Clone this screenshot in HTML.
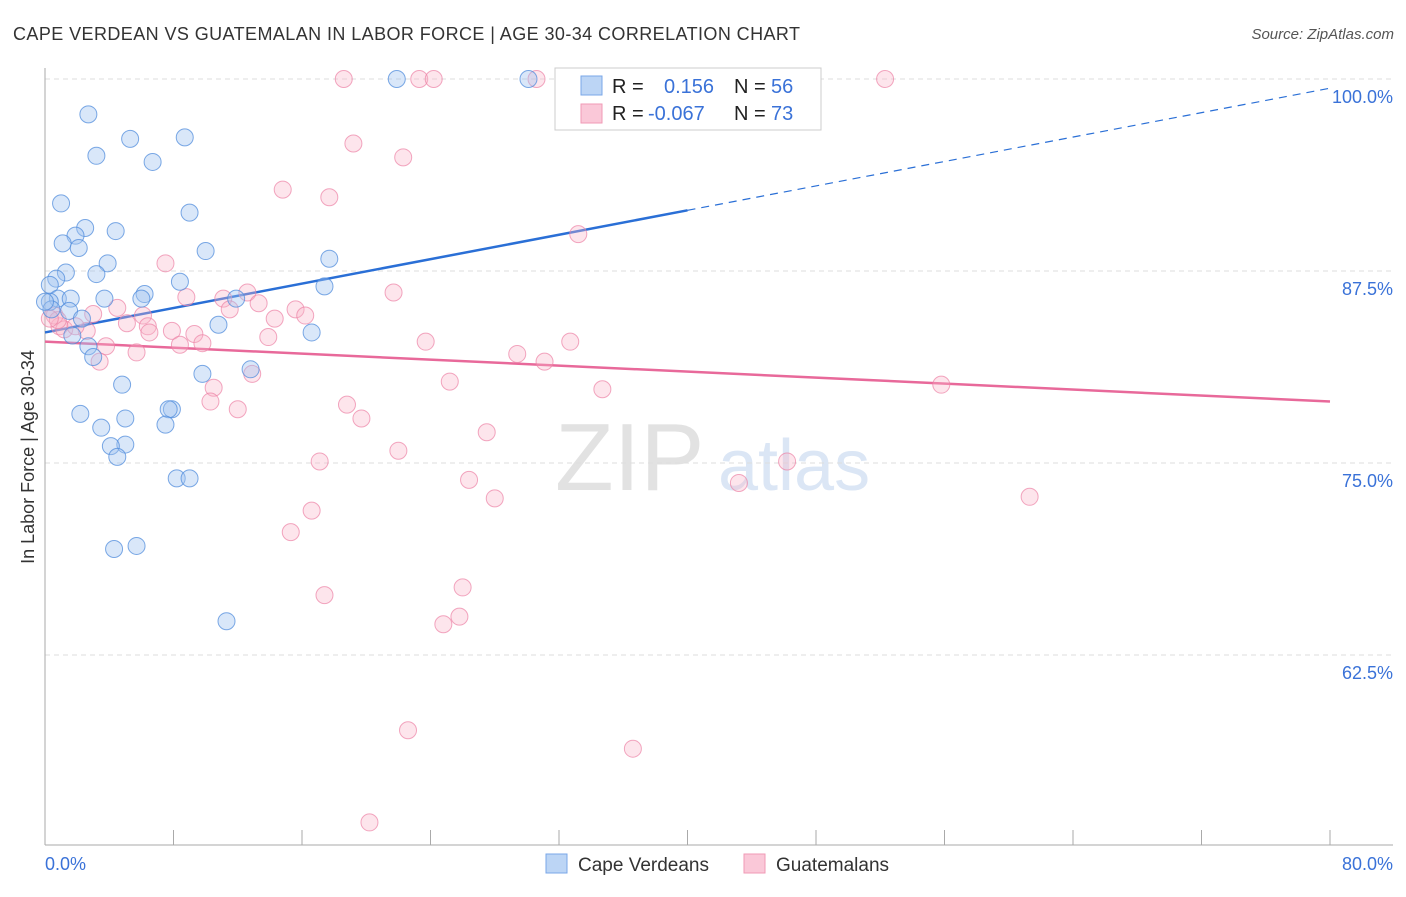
<!DOCTYPE html>
<html><head><meta charset="utf-8"><style>
body{margin:0;background:#fff;font-family:"Liberation Sans",sans-serif}
svg text{font-family:"Liberation Sans",sans-serif}
</style></head><body>
<svg id="chart" width="1406" height="892" viewBox="0 0 1406 892" xmlns="http://www.w3.org/2000/svg">
<text x="13" y="40" font-size="18" fill="#333" textLength="787">CAPE VERDEAN VS GUATEMALAN IN LABOR FORCE | AGE 30-34 CORRELATION CHART</text>
<text x="1394" y="39" font-size="15" fill="#555" text-anchor="end" font-style="italic">Source: ZipAtlas.com</text>
<g><text x="555" y="490" font-size="96" fill="#e2e2e2" font-family="Liberation Serif">ZIP</text><text x="718" y="490" font-size="72" fill="#dbe6f5">atlas</text></g>
<g id="grid"></g><g id="axes"></g><g id="lines"></g><g id="pts"></g>
<text transform="translate(34,457) rotate(-90)" font-size="18" fill="#333" text-anchor="middle">In Labor Force | Age 30-34</text>
<g>
<rect x="555" y="68" width="266" height="62" fill="#fff" stroke="#ccc"/>
<rect x="581" y="76" width="21" height="19" fill="#bcd5f5" stroke="#7aa7e8"/>
<rect x="581" y="104" width="21" height="19" fill="#fac8d8" stroke="#f09ab6"/>
<text x="612" y="93" font-size="20" fill="#222">R =</text><text x="664" y="93" font-size="20" fill="#3a72d8">0.156</text>
<text x="734" y="93" font-size="20" fill="#222">N =</text><text x="771" y="93" font-size="20" fill="#3a72d8">56</text>
<text x="612" y="120" font-size="20" fill="#222">R =</text><text x="648" y="120" font-size="20" fill="#3a72d8">-0.067</text>
<text x="734" y="120" font-size="20" fill="#222">N =</text><text x="771" y="120" font-size="20" fill="#3a72d8">73</text>
</g>
<g>
<rect x="546" y="854" width="21" height="19" fill="#bcd5f5" stroke="#7aa7e8"/>
<text x="578" y="871" font-size="19" fill="#333">Cape Verdeans</text>
<rect x="744" y="854" width="21" height="19" fill="#fac8d8" stroke="#f09ab6"/>
<text x="776" y="871" font-size="19" fill="#333">Guatemalans</text>
</g>
</svg>
<script>
const blueX=[2.7,5.3,8.7,3.2,6.7,1.0,9.0,2.5,4.4,1.9,1.1,2.1,10.0,17.7,3.9,1.3,3.2,0.7,8.4,0.3,17.4,6.2,0.8,1.6,3.7,6.0,11.9,0.3,1.5,10.8,2.3,1.7,16.6,2.7,3.0,12.8,9.8,4.8,2.2,7.9,7.7,5.0,3.5,7.5,5.0,4.1,4.5,8.2,9.0,5.7,4.3,11.3,21.9,30.1,0.4,0.0];
const blueY=[97.7,96.1,96.2,95.0,94.6,91.9,91.3,90.3,90.1,89.8,89.3,89.0,88.8,88.3,88.0,87.4,87.3,87.0,86.8,86.6,86.5,86.0,85.7,85.7,85.7,85.7,85.7,85.5,84.9,84.0,84.4,83.3,83.5,82.6,81.9,81.1,80.8,80.1,78.2,78.5,78.5,77.9,77.3,77.5,76.2,76.1,75.4,74.0,74.0,69.6,69.4,64.7,100,100,85.0,85.5];
const pinkX=[18.6,23.3,24.2,30.6,38.5,43.5,52.3,19.2,22.3,14.8,17.7,33.2,7.5,21.7,8.8,12.6,11.1,13.3,11.5,4.5,6.1,15.6,16.2,14.3,3.0,5.1,6.4,7.9,6.5,0.9,2.6,1.2,9.3,13.9,8.4,9.8,23.7,32.7,3.8,5.7,29.4,31.1,3.4,12.9,10.5,25.2,34.7,55.8,10.3,18.8,12.0,19.7,27.5,22.0,17.1,46.2,26.4,43.2,28.0,61.3,16.6,15.3,26.0,17.4,25.8,24.8,22.6,36.6,20.2,0.6,1.9,0.8,0.3];
const pinkY=[100,100,100,100,100,100,100,95.8,94.9,92.8,92.3,89.9,88.0,86.1,85.8,86.1,85.7,85.4,85.0,85.1,84.6,85.0,84.6,84.4,84.7,84.1,83.9,83.6,83.5,83.9,83.6,83.7,83.4,83.2,82.7,82.8,82.9,82.9,82.6,82.2,82.1,81.6,81.6,80.8,79.9,80.3,79.8,80.1,79.0,78.8,78.5,77.9,77.0,75.8,75.1,75.1,73.9,73.7,72.7,72.8,71.9,70.5,66.9,66.4,65.0,64.5,57.6,56.4,51.6,84.6,83.9,84.3,84.4];
const yTicks=[100,87.5,75,62.5];
const yTickLabels=["100.0%","87.5%","75.0%","62.5%"];
const blueTrend=[83.5,99.4];
const pinkTrend=[82.9,79.0];
const NS="http://www.w3.org/2000/svg";
const sx=v=>45+(v/80)*1285;
const sy=v=>79+(100-v)*15.36;
function mk(tag,attrs,parent){const e=document.createElementNS(NS,tag);for(const k in attrs)e.setAttribute(k,attrs[k]);document.getElementById(parent).appendChild(e);return e;}
yTicks.forEach((t,i)=>{
 const g=mk('line',{x1:45,x2:1393,y1:sy(t),y2:sy(t),stroke:'#ddd','stroke-dasharray':'5,4'},'grid');
 
 
 const l=mk('text',{x:1393,y:sy(t)+24,'font-size':18,fill:'#3a72d8','text-anchor':'end'},'grid');
 l.textContent=yTickLabels[i];
 
 
});
let a=mk('line',{x1:45,x2:45,y1:68,y2:845,stroke:'#aaa'},'axes');


a=mk('line',{x1:45,x2:1393,y1:845,y2:845,stroke:'#aaa'},'axes');


for(let i=0;i<=10;i++){const t=mk('line',{x1:sx(i*8),x2:sx(i*8),y1:830,y2:845,stroke:'#aaa'},'axes');
 
 }
let xl=mk('text',{x:45,y:870,'font-size':18,fill:'#3a72d8'},'axes');xl.textContent='0.0%';


xl=mk('text',{x:1393,y:870,'font-size':18,fill:'#3a72d8','text-anchor':'end'},'axes');xl.textContent='80.0%';


function pts(X,Y,fill,stroke,name){X.forEach((x,i)=>{const c=mk('circle',{cx:sx(x),cy:sy(Y[i]),r:8.5,fill:fill,stroke:stroke,'stroke-width':1},'pts');
 
 });}
pts(pinkX,pinkY,'rgba(248,180,200,0.35)','rgba(236,130,165,0.7)','guatemalan-point');
pts(blueX,blueY,'rgba(160,195,240,0.4)','rgba(80,140,220,0.75)','cape-verdean-point');
const bAt=x=>blueTrend[0]+(blueTrend[1]-blueTrend[0])*x/80;
let ln=mk('line',{x1:sx(0),y1:sy(bAt(0)),x2:sx(40),y2:sy(bAt(40)),stroke:'#2a6fd6','stroke-width':2.5},'lines');


ln=mk('line',{x1:sx(40),y1:sy(bAt(40)),x2:sx(80),y2:sy(bAt(80)),stroke:'#2a6fd6','stroke-width':1.2,'stroke-dasharray':'8,6'},'lines');


ln=mk('line',{x1:sx(0),y1:sy(pinkTrend[0]),x2:sx(80),y2:sy(pinkTrend[1]),stroke:'#e8699a','stroke-width':2.5},'lines');


</script>
</body></html>
